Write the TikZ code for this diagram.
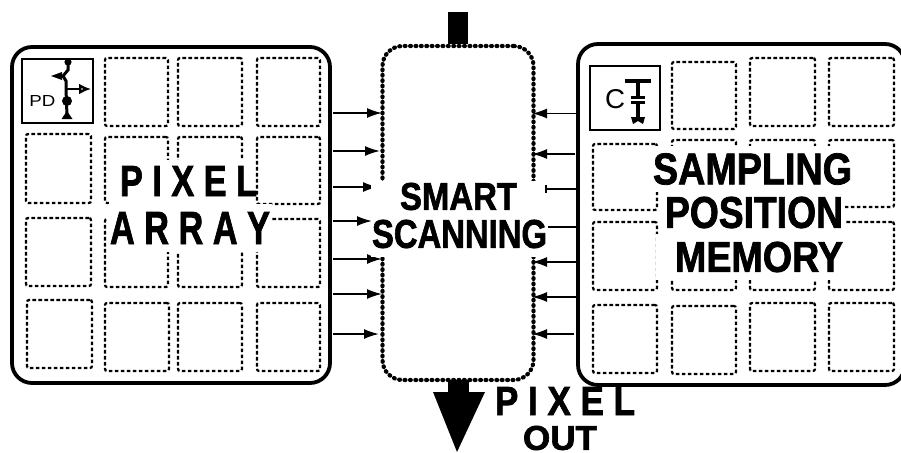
\documentclass[tikz,border=0pt]{standalone}
\usepackage{fontspec}
\usepackage{graphicx}
\setmainfont{Liberation Sans}[BoldFeatures={FakeBold=1.8}]
\usetikzlibrary{arrows.meta,positioning}

\newcommand{\fitlabel}[3]{\resizebox{#1pt}{#2pt}{\bfseries #3}}

\begin{document}
\begin{tikzpicture}[
    x=1pt, y=-1pt,
    every node/.style={inner sep=0pt},
    outerbox/.style={draw, line width=3.8pt, rounded corners=20pt},
    cell/.style={draw, line width=2.2pt, dash pattern=on 3.6pt off 2.4pt, rounded corners=2pt},
    scanbox/.style={draw, line width=4.2pt, line cap=round, dash pattern=on 0.8pt off 4.6pt, rounded corners=20pt},
    iconbox/.style={draw, line width=1.8pt},
    wire/.style={line width=1.7pt, -{Latex[length=15pt,width=10pt]}},
    title/.style={fill=white},
]
\useasboundingbox (0,0) rectangle (901,452);

% left block
\node[outerbox, minimum width=318pt, minimum height=336pt] (pixelbox) at (171,215) {};
\foreach \x/\y/\w/\h [count=\i] in {
    105/58/63/68, 178/58/64/68, 257/58/63/68,
    26/134/65/69, 105/137/63/66, 178/137/64/66, 257/137/63/67,
    26/218/65/68, 105/219/63/68, 178/219/64/68, 257/219/63/68,
    27/300/65/68, 105/303/64/68, 178/303/64/68, 257/303/63/68}
  \node[cell, minimum width=\w pt, minimum height=\h pt] (p\i) at (\x+\w/2,\y+\h/2) {};

% right block
\node[outerbox, minimum width=327pt, minimum height=341pt] (memorybox) at (741.5,214.5) {};
\foreach \x/\y/\w/\h [count=\i] in {
    672/62/64/67, 750/58/65/68, 829/58/65/68,
    593/144/64/66, 672/140/64/67, 750/140/65/67, 829/140/65/67,
    593/222/64/68, 672/222/64/68, 750/222/65/68, 829/222/65/68,
    593/305/64/68, 672/306/64/68, 750/303/65/68, 829/303/65/68}
  \node[cell, minimum width=\w pt, minimum height=\h pt] (m\i) at (\x+\w/2,\y+\h/2) {};

% icons
\node[iconbox, minimum width=71pt, minimum height=64pt] (pdbox) at (57.5,91) {};
\node (pdtext) at (42.5,100.5) {\resizebox{26pt}{11pt}{PD}};
\coordinate (pdtop) at (68,62);
\coordinate (pdbot) at (67,116);
\coordinate (pdmid) at (66,89);
\draw[line width=3pt] (pdtop) -- ++(0,8) -- ++(-5,6) -- ++(3,5) -- (pdmid) -- (pdbot);
\draw[line width=2.6pt, -{Latex[open,length=12pt,width=11pt]}] (pdmid) -- (91,89);
\fill (pdtop) circle (3.6pt);
\fill (pdbot) ++(-5.5,3) -- ++(11,0) -- ++(-5.5,-8) -- cycle;
\fill (67,101) circle (5pt);
\fill (51,76) -- (62,72) -- (62,80) -- cycle;

\node[iconbox, minimum width=70pt, minimum height=64pt] (cbox) at (625,98) {};
\node (ctext) at (615,99.5) {\resizebox{20pt}{19pt}{C}};
\coordinate (ctop) at (638,80.5);
\coordinate (cbot) at (638,118);
\draw[line width=3.4pt] (ctop) -- ++(0,17);
\draw[line width=4pt] (ctop) ++(-13,0) -- ++(26,0);
\draw[line width=2.2pt] (631,97.5) -- (645,97.5);
\draw[line width=2.2pt] (631,102.5) -- (645,102.5);
\draw[line width=3.4pt] (638,103) -- (cbot);
\fill (cbot) ++(-7,-1) -- ++(14,0) -- ++(-2,7) -- ++(-5,-3) -- ++(-5,3) -- cycle;

% scanner
\node[scanbox, minimum width=151pt, minimum height=334pt] (scanbox) at (458,213) {};

% connectors
\foreach \y/\e [count=\i] in {113/382,151/380,187/378,221/372,259/382,294/382,334/379} {
  \coordinate (ls\i) at (333,\y);
  \coordinate (le\i) at (\e,\y);
  \draw[wire] (ls\i) -- (le\i);
}
\foreach \y/\s [count=\i] in {113.5/578,154/575,262/578,297/576,334/574} {
  \coordinate (rs\i) at (\s,\y);
  \coordinate (re\i) at (532,\y);
  \draw[wire] (rs\i) -- (re\i);
}
\coordinate (rn) at (578,227);
\coordinate (rnend) at (540,227);
\draw[line width=1.2pt] (rn) -- (rnend);

% bus
\coordinate (busin) at (458,12);
\draw[line width=20pt] (busin) -- (scanbox.north);
\coordinate (busout) at (457,452);
\coordinate (busst) at (458.5,380);
\draw[line width=21pt] (busst) -- (458.5,394);
\fill (433,392) -- (485,392) -- (busout) -- cycle;

% labels
\fill[white] (371,181) rectangle (548,257);
\coordinate (rt) at (578,189);
\coordinate (rtend) at (545,189);
\draw[line width=1.7pt, -{Bar[width=8pt]}] (rt) -- (rtend);

\node (smart) at (458.5,196.5) {\fitlabel{117}{27}{SMART}};
\node (scanning) at (459.5,234) {\fitlabel{175}{28}{SCANNING}};

\fill[white] (109,160) rectangle (255,204);
\node (pixel) at (188.5,181) {\fitlabel{137}{30}{P I X E L}};
\node[title, minimum width=164pt, minimum height=48pt] (array) at (190,228) {\fitlabel{160}{32}{A R R A Y}};

\node[title, minimum width=207pt, minimum height=46pt] (sampling) at (752.5,169) {\fitlabel{199}{31}{SAMPLING}};
\node[title, minimum width=182pt, minimum height=43pt] (position) at (754,212.5) {\fitlabel{178}{31}{POSITION}};
\node[title, minimum width=207pt, minimum height=46pt] (memory) at (759,257) {\fitlabel{168}{30}{MEMORY}};

\node (pixout) at (565,401) {\fitlabel{140}{28}{P I X E L}};
\node (outtext) at (560,438) {\fitlabel{74}{24}{OUT}};
\end{tikzpicture}
\end{document}
